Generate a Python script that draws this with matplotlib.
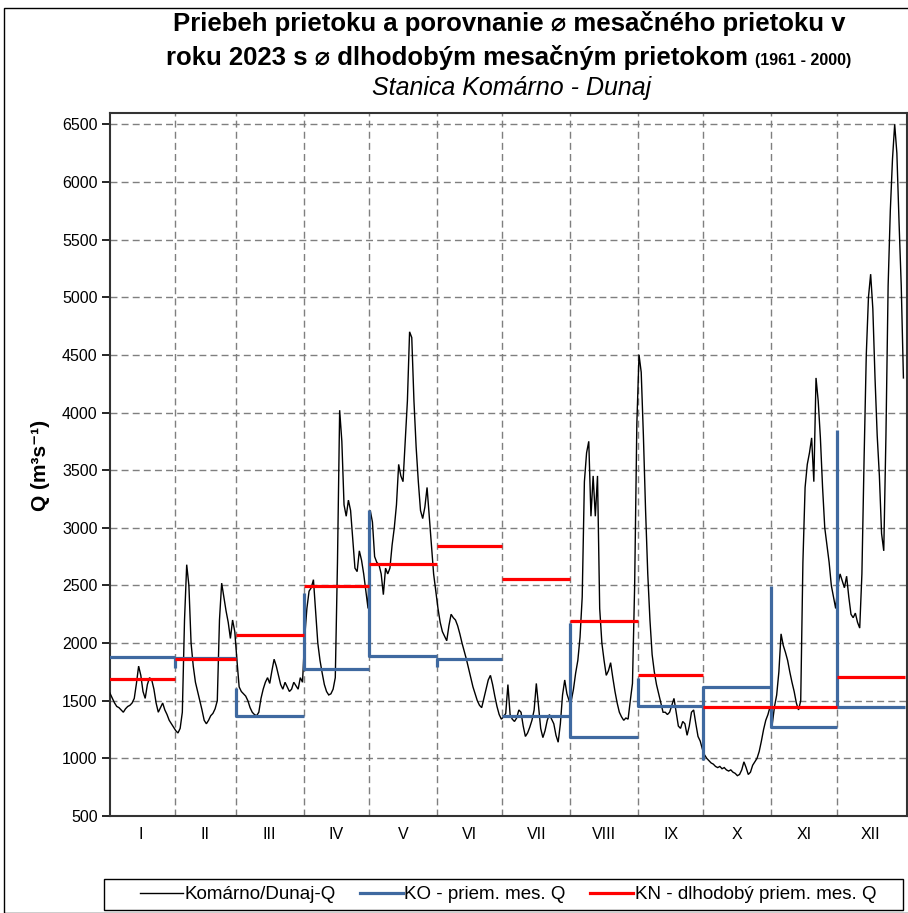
import numpy as np
import matplotlib
matplotlib.use("Agg")
import matplotlib.pyplot as plt
from matplotlib.lines import Line2D
from matplotlib.patches import Rectangle

plt.rcParams['font.family'] = ['Liberation Sans', 'DejaVu Sans']

# ---------------- data ----------------
months = ["I", "II", "III", "IV", "V", "VI", "VII", "VIII", "IX", "X", "XI", "XII"]
days_in_month = [31, 28, 31, 30, 31, 30, 31, 31, 30, 31, 30, 31]

# daily discharge Komárno/Dunaj 2023 (m3/s)
q_jan = [1600, 1560, 1520, 1480, 1450, 1440, 1420, 1400, 1430, 1450, 1460, 1480, 1520, 1650,
         1800, 1720, 1580, 1520, 1640, 1700, 1680, 1600, 1480, 1400, 1440, 1480, 1420, 1380,
         1330, 1300, 1270]
q_feb = [1240, 1220, 1260, 1400, 2200, 2680, 2500, 2000, 1800, 1660, 1580, 1500, 1420, 1330,
         1300, 1330, 1370, 1390, 1430, 1500, 2200, 2520, 2400, 2280, 2180, 2040, 2200, 2100]
q_mar = [1850, 1620, 1580, 1560, 1540, 1500, 1440, 1400, 1380, 1370, 1400, 1520, 1600, 1660,
         1700, 1650, 1760, 1860, 1800, 1720, 1640, 1600, 1660, 1620, 1580, 1600, 1660, 1630,
         1600, 1700, 1660]
q_apr = [2050, 2300, 2450, 2480, 2550, 2280, 2000, 1850, 1740, 1640, 1580, 1550, 1560, 1600,
         1700, 2700, 4020, 3750, 3200, 3100, 3240, 3150, 2900, 2650, 2620, 2800, 2720, 2600,
         2450, 2300]
q_may = [3150, 3050, 2750, 2700, 2680, 2600, 2420, 2650, 2600, 2650, 2850, 3000, 3200, 3550,
         3450, 3400, 3750, 4100, 4700, 4650, 4100, 3700, 3400, 3150, 3080, 3180, 3350, 3100,
         2850, 2600, 2450]
q_jun = [2300, 2180, 2100, 2060, 2020, 2150, 2250, 2220, 2200, 2150, 2080, 2000, 1930, 1860,
         1780, 1700, 1620, 1560, 1500, 1460, 1440, 1520, 1600, 1680, 1720, 1640, 1540, 1450,
         1380, 1340]
q_jul = [1360, 1390, 1640, 1380, 1340, 1320, 1350, 1420, 1400, 1280, 1190, 1220, 1270, 1330,
         1420, 1650, 1450, 1260, 1180, 1240, 1330, 1380, 1340, 1300, 1200, 1140, 1300, 1550,
         1680, 1560, 1500]
q_aug = [1500, 1600, 1740, 1850, 2050, 2400, 3400, 3650, 3750, 3100, 3450, 3100, 3450, 2300,
         2000, 1850, 1720, 1760, 1830, 1700, 1580, 1480, 1400, 1360, 1330, 1350, 1340, 1500,
         1650, 2500, 3900]
q_sep = [4500, 4350, 3800, 3150, 2600, 2200, 1900, 1750, 1640, 1560, 1480, 1400, 1400, 1380,
         1400, 1460, 1520, 1400, 1280, 1260, 1320, 1300, 1200, 1280, 1400, 1420, 1300, 1190,
         1150, 1080]
q_oct = [1030, 1000, 980, 960, 950, 930, 920, 930, 910, 920, 900, 890, 900, 880, 870, 850,
         860, 900, 970, 920, 860, 880, 940, 970, 1000, 1060, 1150, 1250, 1330, 1380, 1450]
q_nov = [1300, 1450, 1550, 1750, 2080, 1980, 1920, 1850, 1750, 1660, 1580, 1480, 1420, 1500,
         2700, 3350, 3550, 3650, 3780, 3400, 4300, 4100, 3780, 3350, 3000, 2850, 2700, 2500,
         2400, 2300]
q_dec = [2500, 2600, 2540, 2480, 2580, 2400, 2250, 2220, 2260, 2180, 2130, 2600, 3600, 4500,
         5000, 5200, 4900, 4300, 3800, 3450, 2950, 2800, 3800, 5100, 5750, 6200, 6500, 6250,
         5650, 5100, 4300]

# KO - monthly mean 2023 and its first-day value
ko_mean = [1877, 1870, 1370, 1773, 1888, 1862, 1370, 1183, 1454, 1622, 1268, 1448]
ko_first = [1740, 1784, 1610, 2437, 3155, 1795, 1370, 2172, 1694, 986, 2494, 3852]
# KN - long-term monthly mean 1961-2000
kn_mean = [1688, 1860, 2070, 2495, 2683, 2845, 2559, 2192, 1723, 1443, 1443, 1708]

yticks = list(range(500, 7000, 500))

# ---------------- figure ----------------
W, H = 908, 913
fig = plt.figure(figsize=(W / 100, H / 100), dpi=100)
fig.patch.set_facecolor('white')

# outer chart frame
fig.add_artist(Rectangle((4 / W, 0.5 / H), (W + 10) / W, (H - 8.5) / H,
                         transform=fig.transFigure, fill=False,
                         edgecolor='#000000', linewidth=1.0))

ax_l, ax_r, ax_t, ax_b = 110, 906.7, 113, 816
ax = fig.add_axes([ax_l / W, 1 - ax_b / H, (ax_r - ax_l) / W, (ax_b - ax_t) / H])

q = np.array(q_jan + q_feb + q_mar + q_apr + q_may + q_jun + q_jul + q_aug + q_sep +
             q_oct + q_nov + q_dec, dtype=float)
days = np.arange(len(q)) + 0.5
starts = np.concatenate([[0], np.cumsum(days_in_month)[:-1]])
ends = np.cumsum(days_in_month)

# blue monthly means (vertical from first-day value to mean, then flat)
bx, by = [], []
for s, e, f, m in zip(starts, ends, ko_first, ko_mean):
    bx += [s, s, e, np.nan]
    by += [f, m, m, np.nan]

ax.plot(days, q, color='black', lw=1.0, zorder=3, solid_joinstyle='miter')
ax.plot(bx, by, color='#3F69A0', lw=2.3, zorder=4, solid_capstyle='butt')
for s, e, v in zip(starts, ends, kn_mean):
    ax.plot([s, e], [v, v], color='#FF0000', lw=2.3, zorder=5, solid_capstyle='butt')

ax.set_xlim(1.4, 366.0)
ax.set_ylim(500, 6598)

ax.set_yticks(yticks)
ax.set_yticklabels([str(v) for v in yticks])
ax.set_xticks((starts + ends) / 2)
ax.set_xticklabels(months)
ax.set_xticks(list(starts[1:]), minor=True)
ax.tick_params(axis='x', which='both', length=0, pad=8, labelsize=11.5, colors='black')
ax.tick_params(axis='y', length=6, width=1.2, pad=3, labelsize=11.5, direction='out')

ax.grid(True, axis='y', which='major', color='#7f7f7f', linestyle=(0, (5, 3)), lw=1.0)
ax.grid(True, axis='x', which='minor', color='#7f7f7f', linestyle=(0, (5, 3)), lw=1.0)
ax.grid(False, axis='x', which='major')
ax.set_axisbelow(True)
for sp in ax.spines.values():
    sp.set_color('#333333')
    sp.set_linewidth(1.5)

# y label
fig.text(40 / W, 1 - 465 / H, 'Q (m³s⁻¹)', rotation=90, ha='center', va='center',
         fontsize=15, fontweight='bold')

# titles
cx = 509 / W
fig.text(cx, 1 - 24 / H, 'Priebeh prietoku a porovnanie ⌀ mesačného prietoku v',
         ha='center', va='center', fontsize=18.5, fontweight='bold')
t2a = fig.text(cx, 1 - 56 / H, 'roku 2023 s ⌀ dlhodobým mesačným prietokom ',
               ha='left', va='baseline', fontsize=18.5, fontweight='bold')
t2b = fig.text(cx, 1 - 56 / H, '(1961 - 2000)', ha='left', va='baseline',
               fontsize=11.5, fontweight='bold')
fig.text(512 / W, 1 - 88 / H, 'Stanica Komárno - Dunaj', ha='center', va='center',
         fontsize=18, fontstyle='italic')

# centre line 2 (two font sizes)
r = fig.canvas.get_renderer()
wa = t2a.get_window_extent(r).width
wb = t2b.get_window_extent(r).width
x0 = cx * W - (wa + wb) / 2
base = 1 - 65 / H
t2a.set_position((x0 / W, base))
t2b.set_position(((x0 + wa) / W, base))

# legend (box drawn separately)
fig.add_artist(Rectangle((104 / W, 1 - 910 / H), (903 - 104) / W, 31 / H,
                         transform=fig.transFigure, fill=False,
                         edgecolor='black', linewidth=1.0, zorder=5))
handles = [Line2D([], [], color='black', lw=1.0),
           Line2D([], [], color='#3F69A0', lw=2.3),
           Line2D([], [], color='#FF0000', lw=2.3)]
labels = ['Komárno/Dunaj-Q', 'KO - priem. mes. Q', 'KN - dlhodobý priem. mes. Q']
leg = fig.legend(handles, labels, loc='center', ncol=3,
                 bbox_to_anchor=(508 / W, 1 - 894.5 / H), frameon=False,
                 fontsize=13.5, handlelength=2.3, handletextpad=0.08,
                 columnspacing=1.3, borderpad=0.2)

fig.savefig('out.png', dpi=100, facecolor='white')
